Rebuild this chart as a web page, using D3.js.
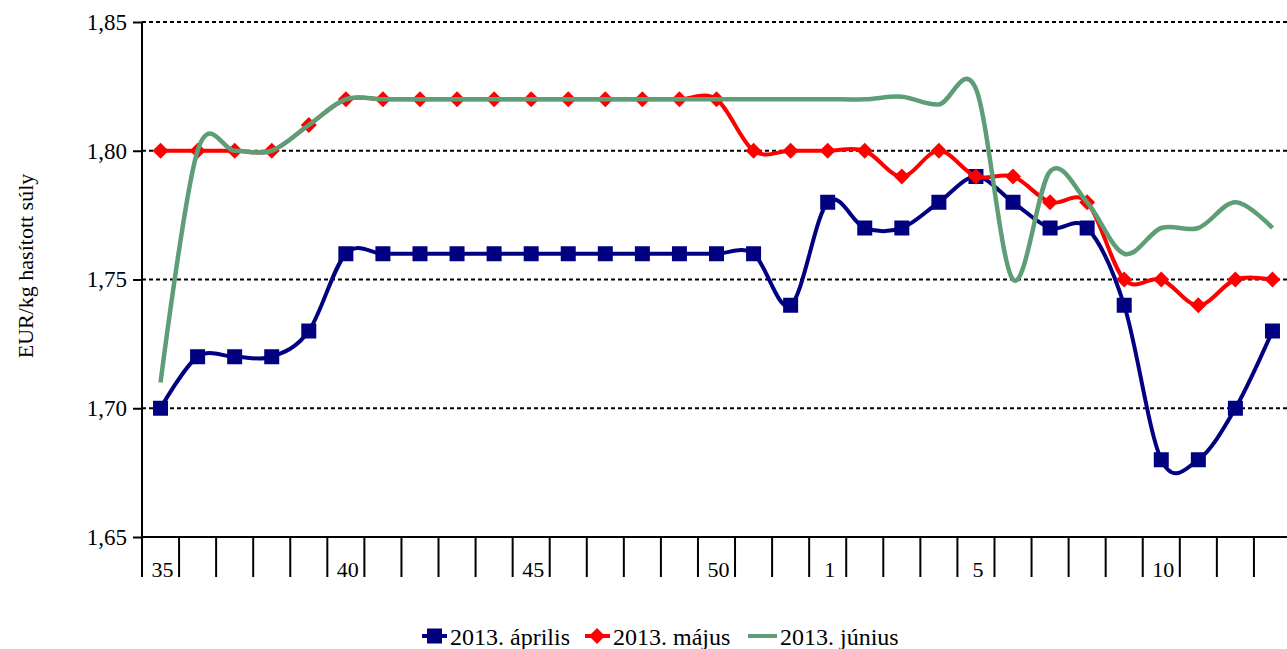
<!DOCTYPE html>
<html>
<head>
<meta charset="utf-8">
<script src="https://cdn.jsdelivr.net/npm/d3@7"></script>
<style>
  body { margin: 0; background: #fff; }
  svg { display: block; font-family: "Liberation Serif", "Times New Roman", serif; }
</style>
</head>
<body>
<svg class="chart"></svg>
<script>
// week numbers (categories)
var weeks = [35,36,37,38,39,40,41,42,43,44,45,46,47,48,49,50,51,52,1,2,3,4,5,6,7,8,9,10,11,12,13];
var shownWeeks = [35,40,45,50,1,5,10];
var yTicks = [1.65,1.70,1.75,1.80,1.85];

var aprilis = [1.70,1.72,1.72,1.72,1.73,1.76,1.76,1.76,1.76,1.76,1.76,1.76,1.76,1.76,1.76,1.76,1.76,1.74,1.78,1.77,1.77,1.78,1.79,1.78,1.77,1.77,1.74,1.68,1.68,1.70,1.73];
var majus   = [1.80,1.80,1.80,1.80,1.81,1.82,1.82,1.82,1.82,1.82,1.82,1.82,1.82,1.82,1.82,1.82,1.80,1.80,1.80,1.80,1.79,1.80,1.79,1.79,1.78,1.78,1.75,1.75,1.74,1.75,1.75];
var junius  = [1.71,1.80,1.80,1.80,1.81,1.82,1.82,1.82,1.82,1.82,1.82,1.82,1.82,1.82,1.82,1.82,1.82,1.82,1.82,1.82,1.821,1.818,1.824,1.75,1.792,1.78,1.76,1.77,1.77,1.78,1.77];

var seriesNames = ['2013. április','2013. május','2013. június'];

drawChart();

function drawChart() {
  var W = 1287, H = 649;
  var mLeft = 142, mRight = 1291, mTop = 22, mBottom = 537;

  var svg = d3.select('.chart')
              .attr('width', W)
              .attr('height', H);

  var xScale = d3.scaleBand()
                 .domain(weeks)
                 .range([mLeft, mRight]);

  var yScale = d3.scaleLinear()
                 .domain([1.65, 1.85])
                 .range([mBottom, mTop]);

  // dotted grid
  svg.append('g')
     .selectAll('line')
     .data(yTicks.slice(1))
     .enter()
     .append('line')
     .attr('x1', mLeft)
     .attr('x2', mRight)
     .attr('y1', d => yScale(d))
     .attr('y2', d => yScale(d))
     .attr('stroke', '#000')
     .attr('stroke-width', 2)
     .attr('stroke-dasharray', '4,3');

  // y axis
  var fmt = d => d3.format('.2f')(d).replace('.', ',');
  var yAxis = d3.axisLeft(yScale).tickValues(yTicks).tickFormat(fmt).tickSize(9).tickPadding(6);
  var gy = svg.append('g')
     .attr('transform', 'translate(' + mLeft + ',0)')
     .call(yAxis);
  gy.select('.domain').remove();
  gy.selectAll('line').attr('stroke', '#000').attr('stroke-width', 2);
  gy.selectAll('text').attr('font-size', 23).attr('font-family', '"Liberation Serif", serif').attr('fill', '#000');

  // x axis labels
  var xAxis = d3.axisBottom(xScale).tickSize(0).tickPadding(24)
                .tickFormat(d => shownWeeks.indexOf(d) >= 0 ? d : '');
  var gx = svg.append('g')
     .attr('transform', 'translate(0,' + mBottom + ')')
     .call(xAxis);
  gx.select('.domain').remove();
  gx.selectAll('text').attr('font-size', 22).attr('font-family', '"Liberation Serif", serif')
    .attr('fill', '#000').attr('dx', 2);

  // category boundary ticks
  svg.append('g')
     .selectAll('line')
     .data(weeks)
     .enter()
     .append('line')
     .attr('x1', d => xScale(d))
     .attr('x2', d => xScale(d))
     .attr('y1', mBottom)
     .attr('y2', mBottom + 40)
     .attr('stroke', '#000')
     .attr('stroke-width', 2);

  svg.append('line')
     .attr('x1', mLeft).attr('x2', mLeft)
     .attr('y1', mTop).attr('y2', mBottom + 40)
     .attr('stroke', '#000').attr('stroke-width', 2);
  svg.append('line')
     .attr('x1', mLeft).attr('x2', mRight)
     .attr('y1', mBottom).attr('y2', mBottom)
     .attr('stroke', '#000').attr('stroke-width', 2);

  // y title
  svg.append('text')
     .attr('transform', 'translate(33,266) rotate(-90)')
     .attr('text-anchor', 'middle')
     .attr('font-size', 22)
     .text('EUR/kg hasított súly');

  var cx = d => xScale(d) + xScale.bandwidth() / 2;
  var line = d3.line()
               .x((d, i) => cx(weeks[i]))
               .y(d => yScale(d))
               .curve(d3.curveCardinal.tension(0));

  var colors = ['#000080', '#ff0000', '#5e9e76'];

  // april
  svg.append('path').datum(aprilis)
     .attr('d', line).attr('fill', 'none')
     .attr('stroke', colors[0]).attr('stroke-width', 4);
  svg.append('g').selectAll('rect').data(aprilis).enter()
     .append('rect')
     .attr('x', (d, i) => cx(weeks[i]) - 7.5)
     .attr('y', d => yScale(d) - 7.5)
     .attr('width', 15).attr('height', 15)
     .attr('fill', colors[0]);

  // may
  svg.append('path').datum(majus)
     .attr('d', line).attr('fill', 'none')
     .attr('stroke', colors[1]).attr('stroke-width', 4);
  svg.append('g').selectAll('path').data(majus).enter()
     .append('path')
     .attr('transform', (d, i) => 'translate(' + cx(weeks[i]) + ',' + yScale(d) + ')')
     .attr('d', 'M0,-8L8,0L0,8L-8,0Z')
     .attr('fill', colors[1]);

  // june
  svg.append('path').datum(junius)
     .attr('d', line).attr('fill', 'none')
     .attr('stroke', colors[2]).attr('stroke-width', 4.5);

  // legend
  var legend = svg.append('g').attr('transform', 'translate(0,636)');
  var lx = [422, 585, 748];
  var tx = [450, 613, 780];
  seriesNames.forEach((name, i) => {
    var g = legend.append('g');
    var w = i == 2 ? 29 : 25;
    g.append('line')
     .attr('x1', lx[i]).attr('x2', lx[i] + w)
     .attr('y1', 0).attr('y2', 0)
     .attr('stroke', colors[i]).attr('stroke-width', 4);
    if (i == 0) {
      g.append('rect').attr('x', lx[i] + 5).attr('y', -7.5).attr('width', 15).attr('height', 15).attr('fill', colors[i]);
    } else if (i == 1) {
      g.append('path').attr('transform', 'translate(' + (lx[i] + 12) + ',0)')
       .attr('d', 'M0,-8L8,0L0,8L-8,0Z').attr('fill', colors[i]);
    }
    g.append('text')
     .attr('x', tx[i]).attr('y', 9)
     .attr('font-size', 24)
     .text(name);
  });
}
</script>
</body>
</html>
